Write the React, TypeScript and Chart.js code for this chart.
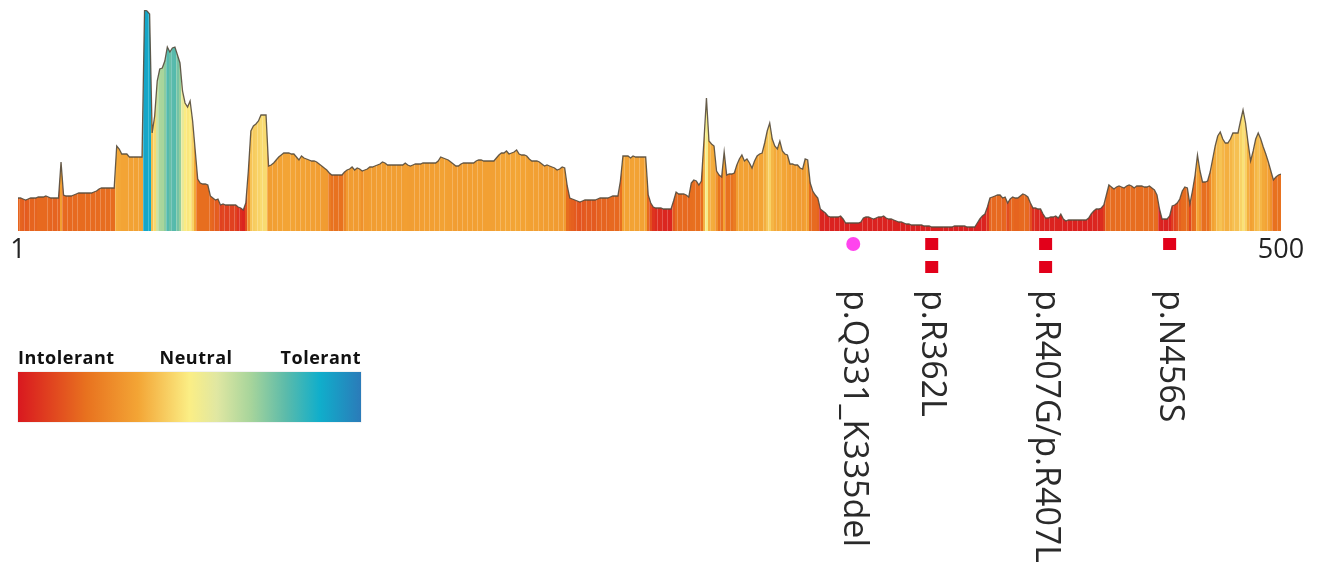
import React, { useEffect, useRef } from 'react';
import { Chart, registerables } from 'chart.js';

Chart.register(...registerables);

// Per-residue tolerance profile (residues 1..500)
const tolerance: number[] = [
  33, 33, 32, 31, 32, 33, 33, 33, 34, 34,
  34, 35, 34, 33, 33, 33, 33, 69, 36, 35,
  35, 35, 36, 37, 38, 38, 38, 38, 38, 38,
  39, 40, 42, 43, 43, 43, 43, 43, 43, 85,
  82, 77, 77, 77, 74, 74, 74, 74, 74, 74,
  221, 220, 217, 98, 115, 150, 162, 163, 170, 184,
  179, 183, 184, 176, 168, 140, 128, 124, 130, 110,
  81, 52, 48, 47, 47, 46, 35, 33, 31, 32,
  26, 27, 26, 26, 26, 26, 26, 24, 23, 21,
  28, 60, 100, 105, 107, 110, 116, 116, 116, 65,
  66, 68, 71, 74, 76, 78, 78, 78, 77, 77,
  74, 71, 75, 73, 72, 71, 70, 70, 69, 67,
  65, 63, 61, 58, 56, 56, 56, 56, 56, 59,
  61, 62, 64, 61, 63, 62, 60, 61, 62, 64,
  64, 65, 66, 67, 69, 68, 66, 66, 66, 66,
  66, 66, 66, 68, 66, 65, 66, 67, 67, 67,
  68, 68, 68, 68, 68, 68, 70, 74, 73, 72,
  71, 69, 67, 65, 65, 67, 68, 68, 68, 68,
  68, 70, 71, 71, 70, 70, 70, 70, 70, 73,
  76, 78, 78, 80, 77, 78, 79, 81, 77, 76,
  76, 75, 72, 70, 70, 70, 69, 67, 65, 66,
  65, 64, 63, 61, 62, 64, 63, 45, 33, 32,
  31, 30, 29, 30, 31, 31, 31, 31, 31, 32,
  33, 33, 33, 33, 34, 35, 35, 35, 50, 75,
  75, 75, 73, 75, 74, 74, 74, 74, 74, 36,
  28, 24, 23, 23, 23, 22, 22, 22, 22, 30,
  39, 37, 37, 37, 36, 34, 48, 51, 50, 46,
  50, 90, 133, 90, 87, 85, 60, 56, 54, 79,
  56, 57, 57, 58, 66, 72, 76, 70, 72, 68,
  63, 70, 75, 77, 78, 88, 100, 108, 92, 85,
  82, 90, 80, 77, 76, 67, 67, 66, 66, 63,
  62, 72, 71, 48, 40, 36, 33, 22, 20, 18,
  15, 14, 14, 14, 14, 15, 12, 8, 8, 8,
  8, 8, 8, 9, 13, 14, 14, 13, 12, 13,
  14, 14, 15, 13, 12, 12, 11, 10, 9, 9,
  8, 7, 7, 6, 6, 6, 6, 6, 5, 5,
  5, 4, 4, 4, 4, 4, 4, 4, 4, 4,
  5, 5, 5, 5, 5, 4, 4, 4, 4, 8,
  12, 15, 17, 24, 33, 34, 35, 36, 36, 33,
  34, 28, 32, 34, 33, 33, 35, 37, 36, 34,
  28, 23, 23, 22, 22, 17, 13, 13, 14, 14,
  15, 13, 17, 12, 10, 11, 11, 11, 11, 11,
  11, 11, 11, 13, 17, 20, 22, 22, 23, 26,
  36, 46, 44, 42, 44, 45, 44, 43, 45, 46,
  45, 43, 45, 45, 45, 44, 44, 45, 43, 41,
  36, 22, 12, 12, 12, 15, 25, 26, 28, 32,
  40, 44, 43, 27, 40, 55, 76, 60, 49, 49,
  50, 59, 72, 85, 95, 99, 92, 88, 88, 92,
  98, 98, 98, 110, 121, 108, 88, 70, 80, 92,
  98, 92, 84, 77, 69, 60, 51, 54, 56, 57,
];

const residues: number[] = tolerance.map((_, i) => i + 1);
const axisTicks: number[] = [1, 500];

const variantPositions: number[] = [331, 362, 407, 456];
const variantLabels: string[] = ['p.Q331_K335del', 'p.R362L', 'p.R407G/p.R407L', 'p.N456S'];
const variantCounts: number[] = [1, 2, 2, 1];
const variantShapes: string[] = ['circle', 'square', 'square', 'square'];

const legendLabels: string[] = ['Intolerant', 'Neutral', 'Tolerant'];

// Colour map (Intolerant -> Neutral -> Tolerant)
const cmapStops: [number, string][] = [
  [0.0, '#d9181f'],
  [0.2, '#e8721f'],
  [0.35, '#f3a535'],
  [0.5, '#fbee85'],
  [0.58, '#e0e7a2'],
  [0.68, '#a6d49b'],
  [0.78, '#5cbbaa'],
  [0.88, '#10aecb'],
  [1.0, '#2b7bb9'],
];

// profile height -> position on colour map
const heightToT: [number, number][] = [
  [0, 0.01], [22, 0.03], [28, 0.12], [34, 0.18], [57, 0.2], [61, 0.32],
  [85, 0.36], [108, 0.44], [130, 0.5], [162, 0.67], [184, 0.79], [221, 0.9],
];

function hexToRgb(h: string): number[] {
  const n = parseInt(h.slice(1), 16);
  return [(n >> 16) & 255, (n >> 8) & 255, n & 255];
}

function rgbAt(t: number): number[] {
  for (let i = 1; i < cmapStops.length; i++) {
    const [t1, c1] = cmapStops[i];
    const [t0, c0] = cmapStops[i - 1];
    if (t <= t1) {
      const f = (t - t0) / (t1 - t0);
      const a = hexToRgb(c0);
      const b = hexToRgb(c1);
      return a.map((v, k) => Math.round(v + (b[k] - v) * f));
    }
  }
  return hexToRgb(cmapStops[cmapStops.length - 1][1]);
}

const rgbStr = (m: number[]) => `rgb(${m[0]},${m[1]},${m[2]})`;
const lighten = (m: number[], f: number) => m.map((v) => Math.round(v + (255 - v) * f));

function tFor(h: number): number {
  for (let i = 1; i < heightToT.length; i++) {
    const [h1, t1] = heightToT[i];
    const [h0, t0] = heightToT[i - 1];
    if (h <= h1) return t0 + ((h - h0) / (h1 - h0)) * (t1 - t0);
  }
  return heightToT[heightToT.length - 1][1];
}

const cssGradient = `linear-gradient(to right, ${cmapStops
  .map(([t, c]) => `${c} ${t * 100}%`)
  .join(', ')})`;

export default function App() {
  const ref = useRef<HTMLCanvasElement>(null);

  useEffect(() => {
    const canvas = ref.current;
    if (!canvas) return;

    const variantPlugin = {
      id: 'variantMarks',
      afterDraw(chart: any) {
        const { ctx, chartArea } = chart;
        const xs = chart.scales.x;
        ctx.save();
        variantPositions.forEach((pos, i) => {
          const px = xs.getPixelForValue(pos);
          for (let k = 0; k < variantCounts[i]; k++) {
            const cy = chartArea.bottom + 13 + k * 23;
            if (variantShapes[i] === 'circle') {
              ctx.fillStyle = '#ff44ee';
              ctx.beginPath();
              ctx.arc(px, cy, 7, 0, Math.PI * 2);
              ctx.fill();
            } else {
              ctx.fillStyle = '#e2001a';
              ctx.fillRect(px - 6.5, cy - 6, 13, 12);
            }
          }
          ctx.save();
          ctx.translate(px, chartArea.bottom + 59);
          ctx.rotate(Math.PI / 2);
          ctx.font = '34px "Open Sans"';
          ctx.fillStyle = '#2a2a2a';
          ctx.textAlign = 'left';
          ctx.textBaseline = 'middle';
          ctx.fillText(variantLabels[i], 0, 0);
          ctx.restore();
        });
        ctx.restore();
      },
    };

    const chart = new Chart(canvas, {
      type: 'line',
      data: {
        datasets: [
          {
            data: residues.map((r, i) => ({ x: r, y: tolerance[i] })),
            borderColor: 'rgba(85,75,60,0.9)',
            borderWidth: 1.3,
            pointRadius: 0,
            tension: 0,
            fill: 'origin',
            backgroundColor: (c: any) => {
              const ch = c.chart;
              const area = ch.chartArea;
              const xs = ch.scales && ch.scales.x;
              if (!area || !xs) return 'rgba(0,0,0,0)';
              const w = area.right - area.left;
              const g = ch.ctx.createLinearGradient(area.left, 0, area.right, 0);
              const clamp = (v: number) => Math.min(1, Math.max(0, v));
              const seam = 0.45 / w;
              residues.forEach((r, i) => {
                const m = rgbAt(tFor(tolerance[i]));
                const col = rgbStr(m);
                const light = rgbStr(lighten(m, 0.22));
                const o0 = clamp((xs.getPixelForValue(r - 0.5) - area.left) / w);
                const o1 = clamp((xs.getPixelForValue(r + 0.5) - area.left) / w);
                g.addColorStop(o0, light);
                g.addColorStop(clamp(o0 + seam), light);
                g.addColorStop(clamp(o0 + seam), col);
                g.addColorStop(o1, col);
              });
              return g;
            },
          },
        ],
      },
      options: {
        animation: false,
        responsive: false,
        events: [],
        layout: { padding: { left: 18, right: 40, top: 10, bottom: 292.6 } },
        plugins: { legend: { display: false }, tooltip: { enabled: false } },
        scales: {
          x: {
            type: 'linear',
            min: 1,
            max: 500,
            grid: { display: false, drawTicks: false },
            border: { display: false },
            afterBuildTicks: (s: any) => {
              s.ticks = axisTicks.map((v) => ({ value: v }));
            },
            ticks: {
              autoSkip: false,
              maxRotation: 0,
              padding: 3,
              color: '#222',
              font: { family: '"Open Sans"', size: 27 },
              callback: (v: any) => String(v),
            },
          },
          y: { display: false, min: 0, max: 221 },
        },
      },
      plugins: [variantPlugin],
    } as any);

    return () => chart.destroy();
  }, []);

  return (
    <div style={{ position: 'fixed', left: 0, top: 0, width: 1321, height: 562, background: '#fff' }}>
      <canvas ref={ref} width={1321} height={562} style={{ display: 'block' }} />
      <div style={{ position: 'absolute', left: 18, top: 345, width: 343 }}>
        <div
          style={{
            position: 'relative',
            height: 25,
            font: 'bold 18px "Open Sans"',
            letterSpacing: '0.5px',
            color: '#111',
            lineHeight: '25px',
          }}
        >
          <span style={{ position: 'absolute', left: 0 }}>{legendLabels[0]}</span>
          <span style={{ position: 'absolute', left: '51.9%', transform: 'translateX(-50%)' }}>
            {legendLabels[1]}
          </span>
          <span style={{ position: 'absolute', right: 0 }}>{legendLabels[2]}</span>
        </div>
        <div style={{ height: 50, marginTop: 2, background: cssGradient, boxShadow: '0 0 0 0.5px #e6e6e6' }} />
      </div>
    </div>
  );
}
